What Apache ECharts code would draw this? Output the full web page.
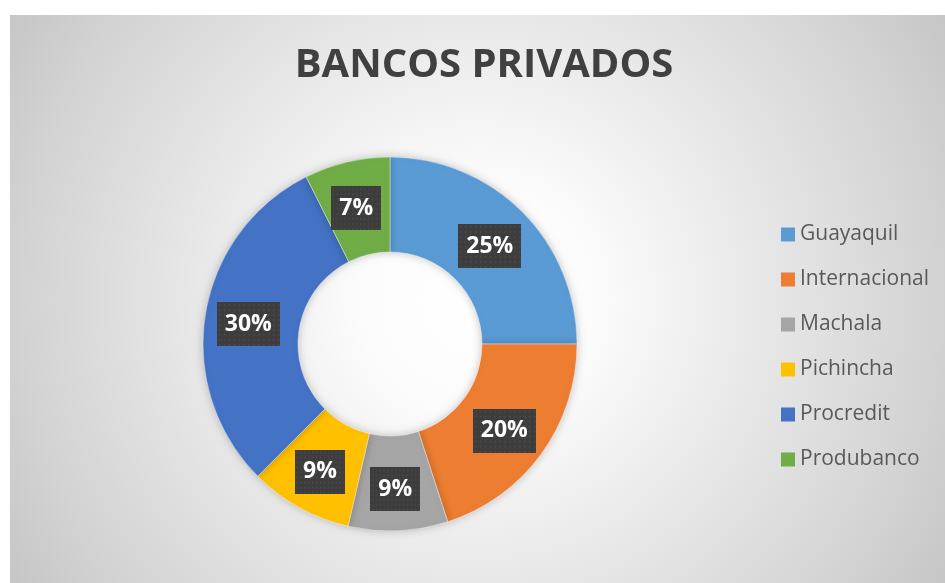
<!DOCTYPE html>
<html>
<head>
<meta charset="utf-8">
<script src="https://cdn.jsdelivr.net/npm/echarts@6/dist/echarts.min.js"></script>
<style>
  html, body { margin: 0; padding: 0; background: #ffffff; }
  #chart { width: 945px; height: 583px; }
</style>
</head>
<body>
<div id="chart"></div>
<script>
(function() {
  var categories = ['Guayaquil', 'Internacional', 'Machala', 'Pichincha', 'Procredit', 'Produbanco'];
  var shares = [25.0, 20.0, 8.6, 8.9, 30.1, 7.4];
  var colors = ['#5b9bd5', '#ed7d31', '#a5a5a5', '#ffc000', '#4472c4', '#70ad47'];

  // dotted dark box behind the data labels
  var tile = document.createElement('canvas');
  tile.width = 64;
  tile.height = 44;
  var ctx = tile.getContext('2d');
  ctx.fillStyle = '#3d3d3d';
  ctx.fillRect(0, 0, 64, 44);
  ctx.fillStyle = '#505050';
  for (var y = 2; y < 44; y += 5) {
    for (var x = 2; x < 64; x += 5) {
      ctx.fillRect(x, y, 1.5, 1.5);
    }
  }

  var chart = echarts.init(document.getElementById('chart'), null, { renderer: 'canvas' });
  chart.setOption({
    animation: false,
    color: colors,
    graphic: [{
      type: 'rect',
      z: -10,
      silent: true,
      shape: { x: 10, y: 15, width: 935, height: 568 },
      style: {
        fill: new echarts.graphic.RadialGradient(0.5, 0.5, 1.0, [
          { offset: 0, color: '#ffffff' },
          { offset: 0.2, color: '#fcfcfc' },
          { offset: 0.45, color: '#ebebeb' },
          { offset: 0.8, color: '#d3d3d3' },
          { offset: 1, color: '#c3c3c3' }
        ])
      }
    }],
    title: {
      text: 'BANCOS PRIVADOS',
      left: 484,
      top: 46,
      padding: 0,
      textAlign: 'center',
      textStyle: {
        fontFamily: 'Open Sans',
        fontWeight: 'bold',
        fontSize: 40,
        lineHeight: 40,
        color: '#404040'
      }
    },
    legend: {
      orient: 'vertical',
      left: 781,
      top: 224,
      padding: 0,
      itemWidth: 14,
      itemHeight: 14,
      itemGap: 24,
      icon: 'rect',
      itemStyle: { borderWidth: 0, shadowBlur: 0 },
      textStyle: {
        fontFamily: 'Open Sans',
        fontSize: 21,
        lineHeight: 21,
        color: '#595959'
      },
      data: categories
    },
    series: [{
      type: 'pie',
      center: [390, 344],
      radius: [92, 187],
      startAngle: 90,
      clockwise: true,
      avoidLabelOverlap: false,
      itemStyle: {
        borderColor: 'rgba(255,255,255,0.7)',
        borderWidth: 0.6,
        shadowBlur: 8,
        shadowColor: 'rgba(0,0,0,0.22)'
      },
      emphasis: { disabled: true },
      label: {
        show: true,
        position: 'inside',
        offset: [-1, 3],
        formatter: function(p) { return Math.round(p.percent) + '%'; },
        fontFamily: 'Open Sans',
        fontWeight: 'bold',
        fontSize: 23,
        lineHeight: 24,
        color: '#ffffff',
        padding: [10, 8],
        backgroundColor: { image: tile },
        shadowBlur: 6,
        shadowOffsetX: 4,
        shadowOffsetY: 4,
        shadowColor: 'rgba(0,0,0,0.55)'
      },
      labelLine: { show: false },
      data: categories.map(function(name, i) {
        return { name: name, value: shares[i] };
      })
    }]
  });
  window.addEventListener('resize', function() { chart.resize(); });
})();
</script>
</body>
</html>
